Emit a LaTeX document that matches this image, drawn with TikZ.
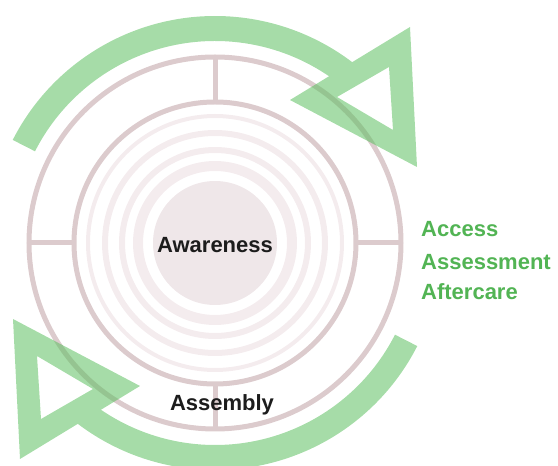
\documentclass[tikz,border=0pt]{standalone}
\usepackage{fontspec}
\setmainfont{Liberation Sans}
\usetikzlibrary{calc}
\definecolor{ringdark}{RGB}{220,203,205}
\definecolor{ringlight}{RGB}{244,236,238}
\definecolor{disc}{RGB}{239,231,233}
\definecolor{cyclegreen}{RGB}{92,192,96}
\definecolor{labelgreen}{RGB}{82,180,84}
\definecolor{labelblack}{RGB}{28,28,28}
\tikzset{
  mainring/.style={draw=ringdark, line width=5pt},
  softring/.style={draw=ringlight},
  spoke/.style={draw=ringdark, line width=5pt},
  centerlabel/.style={font=\bfseries\fontsize{22}{26}\selectfont, text=labelblack, inner sep=0pt},
  sidelabel/.style={font=\bfseries\fontsize{22}{26}\selectfont, text=labelgreen, inner sep=0pt, anchor=base west},
  cyclefill/.style={fill=cyclegreen}
}
\begin{document}
\begin{tikzpicture}[x=1pt,y=1pt]
  \useasboundingbox (0,0) rectangle (558,466);
  \coordinate (c) at (215,223);

  % concentric core
  \fill[disc] (c) circle[radius=62];
  \draw[softring, line width=10pt] (c) circle[radius=77];
  \draw[softring, line width=6pt] (c) circle[radius=93];
  \draw[softring, line width=6pt] (c) circle[radius=110];
  \draw[softring, line width=4pt] (c) circle[radius=127];

  % inner and outer rings with four spokes
  \draw[mainring] (c) circle[radius=141];
  \draw[mainring] (c) circle[radius=186];
  \foreach \a in {0,90,180,270}
    \draw[spoke] ($(c)+(\a:141)$) -- ($(c)+(\a:186)$);

  % two cycle arrows, one the half-turn of the other
  \begin{scope}[transparency group, opacity=0.55]
    \foreach \r in {0,180} {
      \begin{scope}[rotate around={\r:(c)}]
        \fill[cyclefill] ($(c)+(153:227)$) arc[start angle=153, end angle=50, radius=227]
          -- ($(c)+(50:202)$) arc[start angle=50, end angle=153, radius=202] -- cycle;
        \fill[cyclefill, even odd rule]
          (290,366) -- (410,439) -- (417,299) -- cycle
          (337,369) -- (389,399) -- (393,336) -- cycle;
      \end{scope}
    }
  \end{scope}

  % labels
  \node[centerlabel] (awareness) at (215,221) {Awareness};
  \node[centerlabel] (assembly) at (222,61) {Assembly};
  \node[sidelabel] (access) at (421,229) {Access};
  \node[sidelabel] (assessment) at (421,196) {Assessment};
  \node[sidelabel] (aftercare) at (421,166) {Aftercare};
\end{tikzpicture}
\end{document}
